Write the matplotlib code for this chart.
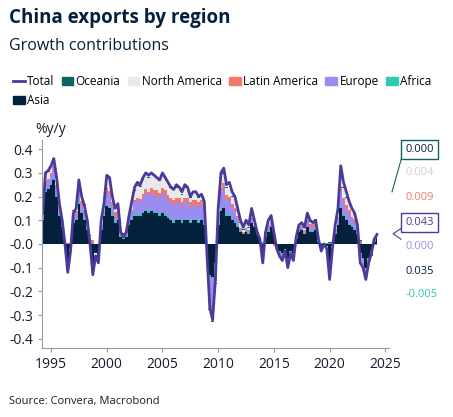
import numpy as np
import matplotlib
matplotlib.use("Agg")
import matplotlib.pyplot as plt
from matplotlib.lines import Line2D
from matplotlib.patches import Patch

plt.rcParams['font.family'] = ['Open Sans', 'DejaVu Sans']

# quarterly, 1994 Q2 .. 2024 Q2
total = [0.13, 0.30, 0.31,
         0.33, 0.36, 0.28, 0.17, 0.10, 0.00, -0.12, -0.03, 0.13, 0.15, 0.27, 0.20,
         0.16, 0.10, 0.00, -0.13, -0.05, -0.08, 0.10, 0.17, 0.29, 0.28, 0.20, 0.15,
         0.17, 0.05, 0.03, 0.05, 0.12, 0.18, 0.24, 0.26, 0.25, 0.28, 0.30, 0.29,
         0.30, 0.29, 0.28, 0.27, 0.30, 0.28, 0.26, 0.24, 0.23, 0.25, 0.24, 0.22,
         0.25, 0.24, 0.20, 0.22, 0.22, 0.20, 0.21, 0.18, -0.05, -0.27, -0.32, -0.15,
         0.15, 0.30, 0.32, 0.25, 0.26, 0.22, 0.20, 0.15, 0.10, 0.07, 0.10, 0.08,
         0.15, 0.10, 0.05, 0.02, -0.08, 0.05, 0.10, 0.12, 0.05, -0.02, -0.05, -0.07,
         -0.03, -0.10, -0.04, -0.07, 0.03, 0.08, 0.09, 0.07, 0.13, 0.10, 0.09, 0.10,
         0.02, -0.03, 0.00, -0.02, -0.15, -0.02, 0.08, 0.15, 0.33, 0.26, 0.22, 0.18,
         0.15, 0.13, 0.08, -0.08, -0.10, -0.15, -0.08, -0.04, 0.02, 0.04]

asia = [0.10, 0.22, 0.23,
        0.25, 0.27, 0.20, 0.12, 0.07, 0.00, -0.08, -0.02, 0.09, 0.10, 0.17, 0.13,
        0.10, 0.06, -0.01, -0.09, -0.04, -0.06, 0.06, 0.12, 0.16, 0.15, 0.12, 0.09,
        0.10, 0.03, 0.02, 0.03, 0.08, 0.10, 0.12, 0.12, 0.12, 0.13, 0.14, 0.13,
        0.14, 0.13, 0.13, 0.12, 0.13, 0.12, 0.11, 0.10, 0.09, 0.10, 0.10, 0.09,
        0.10, 0.10, 0.09, 0.10, 0.10, 0.09, 0.10, 0.08, -0.03, -0.13, -0.14, -0.08,
        0.08, 0.14, 0.15, 0.12, 0.12, 0.10, 0.09, 0.07, 0.05, 0.04, 0.05, 0.04,
        0.09, 0.07, 0.04, 0.02, -0.04, 0.03, 0.05, 0.07, 0.04, -0.01, -0.03, -0.04,
        -0.02, -0.06, -0.03, -0.04, 0.02, 0.05, 0.06, 0.04, 0.07, 0.05, 0.05, 0.06,
        0.01, -0.01, 0.00, -0.01, -0.08, -0.01, 0.04, 0.08, 0.15, 0.12, 0.10, 0.08,
        0.07, 0.06, 0.04, -0.04, -0.06, -0.10, -0.06, -0.03, 0.01, 0.035]

europe = [0.01, 0.03, 0.03,
          0.03, 0.04, 0.03, 0.02, 0.01, 0.00, -0.02, 0.00, 0.02, 0.02, 0.04, 0.03,
          0.03, 0.02, 0.01, -0.02, 0.00, -0.01, 0.02, 0.02, 0.05, 0.05, 0.03, 0.02,
          0.03, 0.01, 0.01, 0.01, 0.02, 0.03, 0.05, 0.06, 0.05, 0.06, 0.07, 0.07,
          0.07, 0.07, 0.07, 0.07, 0.08, 0.08, 0.07, 0.07, 0.07, 0.07, 0.07, 0.06,
          0.07, 0.07, 0.06, 0.06, 0.06, 0.06, 0.06, 0.05, -0.01, -0.09, -0.12, -0.05,
          0.03, 0.07, 0.08, 0.06, 0.06, 0.05, 0.04, 0.03, 0.01, 0.00, 0.01, 0.01,
          0.01, 0.00, 0.00, -0.01, -0.02, 0.00, 0.02, 0.02, 0.00, 0.00, -0.01, -0.01,
          -0.01, -0.01, 0.00, -0.01, 0.00, 0.01, 0.01, 0.01, 0.02, 0.02, 0.02, 0.02,
          0.00, -0.01, 0.00, 0.00, -0.03, 0.00, 0.02, 0.03, 0.07, 0.05, 0.04, 0.04,
          0.03, 0.03, 0.02, -0.02, -0.02, -0.02, -0.01, -0.01, 0.00, 0.00]

north_america = [0.01, 0.03, 0.03,
                 0.03, 0.03, 0.03, 0.02, 0.01, 0.00, -0.01, 0.00, 0.01, 0.02, 0.04, 0.03,
                 0.02, 0.01, 0.01, -0.01, 0.00, 0.00, 0.01, 0.02, 0.05, 0.05, 0.03, 0.02,
                 0.02, 0.00, 0.00, 0.01, 0.01, 0.03, 0.04, 0.05, 0.05, 0.06, 0.06, 0.06,
                 0.06, 0.06, 0.05, 0.05, 0.06, 0.05, 0.05, 0.04, 0.04, 0.04, 0.04, 0.03,
                 0.04, 0.04, 0.02, 0.03, 0.03, 0.02, 0.02, 0.02, -0.01, -0.03, -0.04, -0.01,
                 0.02, 0.05, 0.04, 0.03, 0.03, 0.03, 0.03, 0.02, 0.02, 0.01, 0.02, 0.01,
                 0.02, 0.01, 0.00, 0.00, -0.01, 0.01, 0.01, 0.01, 0.00, 0.00, 0.00, -0.01,
                 0.00, -0.01, 0.00, -0.01, 0.00, 0.01, 0.01, 0.01, 0.02, 0.01, 0.01, 0.01,
                 0.00, -0.01, 0.00, 0.00, -0.02, 0.00, 0.01, 0.02, 0.05, 0.04, 0.03, 0.03,
                 0.02, 0.02, 0.01, -0.01, -0.01, -0.02, -0.01, 0.00, 0.00, 0.004]

# yearly contributions 1994..2024, held across each year's quarters
latam_yearly = [0.01, 0.015, 0.005, 0.015, 0.01, 0.0, 0.02, 0.01, 0.01, 0.015, 0.02,
                0.02, 0.02, 0.02, 0.02, -0.02, 0.02, 0.015, 0.005, 0.005, 0.005,
                -0.005, -0.005, 0.005, 0.01, 0.0, 0.005, 0.02, 0.01, -0.005, 0.009]
africa_yearly = [0.005, 0.005, 0.0, 0.005, 0.005, 0.0, 0.005, 0.003, 0.005, 0.005, 0.006,
                 0.006, 0.006, 0.006, 0.006, -0.006, 0.006, 0.005, 0.004, 0.003, 0.003,
                 -0.002, -0.003, 0.002, 0.003, 0.002, 0.0, 0.005, 0.004, -0.003, -0.005]
oceania_yearly = [0.003, 0.003, 0.0, 0.002, 0.002, 0.0, 0.003, 0.002, 0.003, 0.003, 0.004,
                  0.004, 0.003, 0.003, 0.003, -0.002, 0.004, 0.003, 0.002, 0.002, 0.001,
                  0.0, -0.001, 0.001, 0.002, 0.0, 0.002, 0.004, 0.002, -0.001, 0.0]

dates = 1994.25 + np.arange(len(total)) / 4
year_idx = dates.astype(int) - 1994
latam = np.array(latam_yearly)[year_idx]
africa = np.array(africa_yearly)[year_idx]
oceania = np.array(oceania_yearly)[year_idx]

comps = [("Asia", np.array(asia), "#03203c"),
         ("Africa", africa, "#2ec8b4"),
         ("Europe", np.array(europe), "#9b8cf2"),
         ("Latin America", latam, "#f2786c"),
         ("North America", np.array(north_america), "#e9e9ec"),
         ("Oceania", oceania, "#0f6262")]

fig = plt.figure(figsize=(4.53, 4.17), dpi=100)
ax = fig.add_axes([0.093, 0.165, 0.765, 0.50])

pos_base = np.zeros(len(dates))
neg_base = np.zeros(len(dates))
for name, v, c in comps:
    p = np.clip(v, 0, None)
    n = np.clip(v, None, 0)
    ax.fill_between(dates, pos_base, pos_base + p, color=c, lw=0, step='mid')
    ax.fill_between(dates, neg_base, neg_base + n, color=c, lw=0, step='mid')
    pos_base += p
    neg_base += n

line_c = "#4a3a9c"
ax.plot(dates, total, color=line_c, lw=2)

ax.set_xlim(1994.2, 2025.3)
ax.set_ylim(-0.44, 0.44)
ax.set_yticks(np.arange(-0.4, 0.41, 0.1))
ax.set_yticklabels([f"{t:.1f}" for t in np.arange(-0.4, 0.41, 0.1)])
ax.set_xticks(range(1995, 2026, 5))
for s in ["top", "right"]:
    ax.spines[s].set_visible(False)
for s in ["left", "bottom"]:
    ax.spines[s].set_color("#9a9a9a")
ax.tick_params(colors="#9a9a9a", labelcolor="#1a1a2e", labelsize=10, length=3)
ax.text(-0.02, 1.03, "%y/y", transform=ax.transAxes, fontsize=10, color="#1a1a2e")

# right-hand value labels
labels = [(0.000, "#0f6262", 0.40, True), (0.004, "#cfcfd4", 0.30, False),
          (0.009, "#f2786c", 0.195, False), (0.043, line_c, 0.09, True),
          (0.000, "#9b8cf2", -0.01, False), (0.035, "#03203c", -0.115, False),
          (-0.005, "#2ec8b4", -0.215, False)]
lx = 2026.8
for val, c, y, boxed in labels:
    kw = {}
    if boxed:
        kw["bbox"] = dict(boxstyle="square,pad=0.35", fc="white", ec=c, lw=1)
        tc = "#03203c" if c != line_c else line_c
    else:
        tc = c
    ax.text(lx, y, f"{val:.3f}", color=tc, fontsize=8, va="center", clip_on=False, **kw)
ax.plot([2025.6, 2026.5], [0.22, 0.37], color="#0f6262", lw=0.8, clip_on=False)
ax.plot([2026.4, 2025.7, 2026.4], [0.065, 0.043, 0.02], color=line_c, lw=0.8, clip_on=False)

fig.text(0.02, 0.945, "China exports by region", fontsize=13.5, fontweight="bold", color="#03203c")
fig.text(0.02, 0.88, "Growth contributions", fontsize=11.5, color="#03203c")

handles = [Line2D([], [], color=line_c, lw=2)] + \
    [Patch(color=c) for _, _, c in comps[::-1][:5]] + [Patch(color="#03203c")]
names = ["Total", "Oceania", "North America", "Latin America", "Europe", "Africa", "Asia"]
fig.legend(handles[:6], names[:6], loc="upper left", bbox_to_anchor=(0.005, 0.845), ncol=6,
           frameon=False, fontsize=8.5, handlelength=1.0, handletextpad=0.2, columnspacing=0.6)
fig.legend(handles[6:], names[6:], loc="upper left", bbox_to_anchor=(0.005, 0.80), ncol=1,
           frameon=False, fontsize=8.5, handlelength=1.0, handletextpad=0.2)

fig.text(0.02, 0.03, "Source: Convera, Macrobond", fontsize=8, color="#1a1a2e")
fig.savefig("out.png", dpi=100)
